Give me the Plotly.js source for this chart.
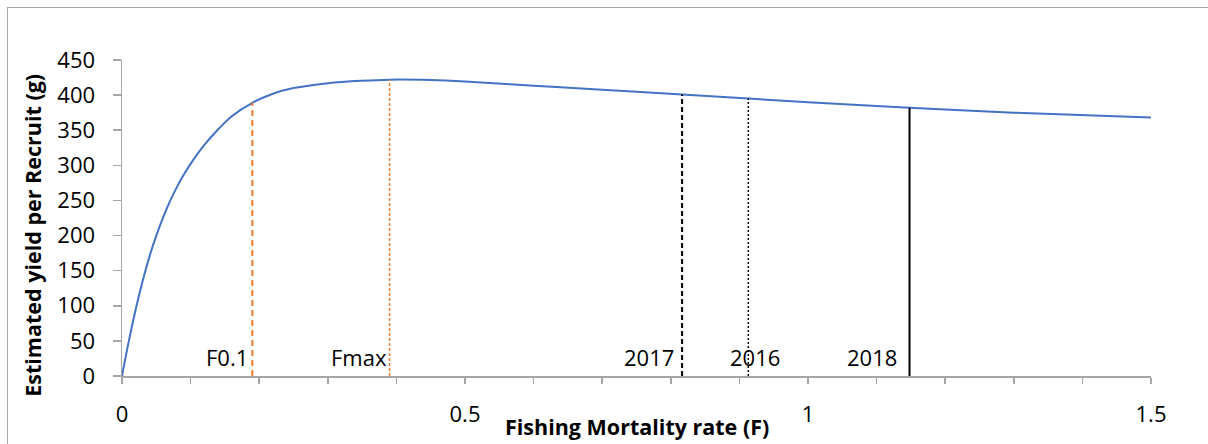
<!DOCTYPE html>
<html><head><meta charset="utf-8">
<script src="https://cdn.plot.ly/plotly-3.0.1.min.js"></script>
<style>
html,body{margin:0;padding:0;overflow:hidden;background:#fff}
#chart{width:1208px;height:444px;position:absolute;left:0;top:0}
#frame{position:absolute;left:7px;top:7px;width:1400px;height:600px;border-left:1px solid #a6a6a6;border-top:1px solid #a6a6a6;pointer-events:none}
</style></head>
<body>
<div id="chart"></div><div id="frame"></div>
<script>
// Fishing mortality rate (F) and estimated yield per recruit (g)
const F   = [0, 0.01, 0.02, 0.03, 0.04, 0.05, 0.06, 0.07, 0.08, 0.09, 0.10, 0.12, 0.14, 0.16, 0.19, 0.22, 0.25, 0.30, 0.35, 0.39, 0.45, 0.50, 0.60, 0.70, 0.8165, 0.913, 1.0, 1.148, 1.3, 1.5];
const YPR = [0, 50, 95, 135, 170, 200, 226, 249, 269, 286.5, 302, 329, 351, 370, 389, 402, 410, 417, 420.5, 422, 421.5, 419.5, 413.5, 407.5, 401, 395, 390, 382, 375, 368];

// Reference points (vertical markers)
const refNames = ['F0.1', 'Fmax', '2017', '2016', '2018'];
const refF     = [0.19, 0.39, 0.8165, 0.913, 1.148];
const refY     = [389, 422, 401, 395, 382];

// Axis tick labels
const xTickVals = [0, 0.5, 1, 1.5];
const xTickText = ['0', '0.5', '1', '1.5'];
const yTickVals = [0, 50, 100, 150, 200, 250, 300, 350, 400, 450];

const FONT = 'Open Sans, Noto Sans, sans-serif';
const refStyle = [
  {color: '#ED7D31', width: 2, dash: '6px,4px'},
  {color: '#ED7D31', width: 1.5, dash: '3px,2px'},
  {color: '#000000', width: 2, dash: '5px,3px'},
  {color: '#000000', width: 1.5, dash: '2px,2px'},
  {color: '#000000', width: 2, dash: 'solid'}
];
const labelShift = [
  {anchor: 'right', shift: -2},
  {anchor: 'right', shift: -1},
  {anchor: 'right', shift: -6},
  {anchor: 'center', shift: 7},
  {anchor: 'right', shift: -11}
];

const traces = [{
  x: F, y: YPR, type: 'scatter', mode: 'lines',
  line: {color: '#4472C4', width: 2, shape: 'spline', smoothing: 1},
  hoverinfo: 'x+y'
}];
refNames.forEach((n, i) => {
  traces.push({
    x: [refF[i], refF[i]], y: [0, refY[i]], type: 'scatter', mode: 'lines',
    line: refStyle[i], name: n, hoverinfo: 'name+x'
  });
});

const annotations = refNames.map((n, i) => ({
  x: refF[i], y: 0, xref: 'x', yref: 'y',
  text: n, showarrow: false,
  xanchor: labelShift[i].anchor, yanchor: 'bottom',
  xshift: labelShift[i].shift, yshift: 2,
  font: {family: FONT, size: 22, color: '#000'}
}));
annotations.push({
  xref: 'paper', yref: 'paper', x: -0.0864, y: 0.444,
  text: '<b>Estimated yield per Recruit (g)</b>', showarrow: false,
  textangle: -90, xanchor: 'center', yanchor: 'middle',
  font: {family: FONT, size: 21.5, color: '#000'}
});
annotations.push({
  xref: 'paper', yref: 'paper', x: 0.5002, y: -0.1596,
  text: '<b>Fishing Mortality rate (F)</b>', showarrow: false,
  xanchor: 'center', yanchor: 'middle',
  font: {family: FONT, size: 21.5, color: '#000'}
});

const layout = {
  width: 1208, height: 444,
  margin: {l: 122, r: 56.5, t: 60, b: 67.5},
  paper_bgcolor: '#fff', plot_bgcolor: '#fff',
  showlegend: false,
  xaxis: {
    range: [0, 1.5], tickvals: xTickVals, ticktext: xTickText,
    showgrid: false, zeroline: false, showline: true, linecolor: '#a6a6a6', linewidth: 1.5,
    ticks: 'outside', ticklen: 6, tickcolor: '#a6a6a6', tickwidth: 1.5,
    minor: {dtick: 0.1, tick0: 0, ticks: 'outside', ticklen: 6, tickcolor: '#a6a6a6', tickwidth: 1.5, showgrid: false},
    ticklabelstandoff: 12,
    tickfont: {family: FONT, size: 22, color: '#000'},
    fixedrange: true
  },
  yaxis: {
    range: [0, 450], tickvals: yTickVals,
    showgrid: false, zeroline: false, showline: true, linecolor: '#a6a6a6', linewidth: 1.5,
    ticks: 'outside', ticklen: 8, tickcolor: '#a6a6a6', tickwidth: 1.5,
    ticklabelstandoff: 13,
    tickfont: {family: FONT, size: 22, color: '#000'},
    fixedrange: true
  },
  annotations: annotations
};

Plotly.newPlot('chart', traces, layout, {displayModeBar: false, staticPlot: true});
</script>
</body></html>
